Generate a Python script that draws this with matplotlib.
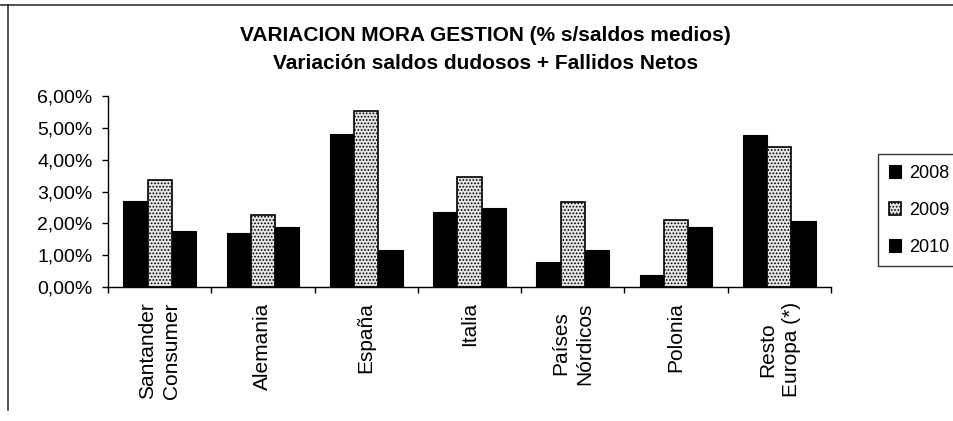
import numpy as np
import matplotlib
matplotlib.use("Agg")
import matplotlib.pyplot as plt
from matplotlib.lines import Line2D
from matplotlib.ticker import FuncFormatter

plt.rcParams['font.family'] = ['Liberation Sans', 'DejaVu Sans']
plt.rcParams['hatch.linewidth'] = 0.8

paises = ['Santander\nConsumer', 'Alemania', 'España', 'Italia',
          'Países\nNórdicos', 'Polonia', 'Resto\nEuropa (*)']
anios = ['2008', '2009', '2010']
mora_2008 = [2.70, 1.71, 4.80, 2.37, 0.80, 0.38, 4.78]
mora_2009 = [3.35, 2.27, 5.54, 3.44, 2.68, 2.11, 4.39]
mora_2010 = [1.77, 1.90, 1.16, 2.47, 1.16, 1.90, 2.08]

fig = plt.figure(figsize=(9.54, 4.21), dpi=100)
ax = fig.add_axes([108 / 954, 1 - 287 / 421, (831 - 108) / 954, (287 - 96) / 421])

x = np.arange(len(paises))
w = 0.235
ax.bar(x - w, mora_2008, w, color='black', edgecolor='black', linewidth=0.8, label=anios[0])
ax.bar(x, mora_2009, w, color='#e6e6e6', edgecolor='black', hatch='.....', linewidth=1.2, label=anios[1])
ax.bar(x + w, mora_2010, w, color='black', edgecolor='black', linewidth=0.8, label=anios[2])

ax.set_xlim(-0.5, len(paises) - 0.5)
ax.set_ylim(0, 6)
ax.set_yticks(np.arange(0, 7, 1))
ax.yaxis.set_major_formatter(FuncFormatter(lambda v, p: f'{v:.2f}%'.replace('.', ',')))
ax.tick_params(axis='y', labelsize=14, length=4, width=1, pad=7)

ax.set_xticks(x)
ax.set_xticklabels(paises, rotation=90, fontsize=15, ha='center', va='top',
                   multialignment='center', linespacing=1.3)
ax.set_xticks(np.arange(-0.5, len(paises)), minor=True)
ax.tick_params(axis='x', which='major', length=0, pad=11)
ax.tick_params(axis='x', which='minor', length=4, width=1)

for s in ['top', 'right']:
    ax.spines[s].set_visible(False)
ax.spines['left'].set_linewidth(1)
ax.spines['bottom'].set_linewidth(1)

fig.text(0.509, 1 - 41 / 421, 'VARIACION MORA GESTION (% s/saldos medios)',
         ha='center', va='baseline', fontsize=15, fontweight='bold')
fig.text(0.509, 1 - 69 / 421, 'Variación saldos dudosos + Fallidos Netos',
         ha='center', va='baseline', fontsize=15, fontweight='bold')

leg = fig.legend(loc='upper left', bbox_to_anchor=(878 / 954, 1 - 154 / 421),
                 fontsize=13, frameon=True, fancybox=False, handlelength=0.7,
                 handleheight=0.7, handletextpad=0.4, labelspacing=1.1,
                 borderpad=0.6, borderaxespad=0)
leg.get_frame().set_edgecolor('black')
leg.get_frame().set_linewidth(1)

# marco exterior del grafico
fig.add_artist(Line2D([0, 1], [1 - 5 / 421, 1 - 5 / 421], color='#333333', lw=1.2,
                      transform=fig.transFigure))
fig.add_artist(Line2D([8 / 954, 8 / 954], [1 - 5 / 421, 1 - 410 / 421], color='#333333',
                      lw=1.2, transform=fig.transFigure))

fig.savefig('out.png', dpi=100)
